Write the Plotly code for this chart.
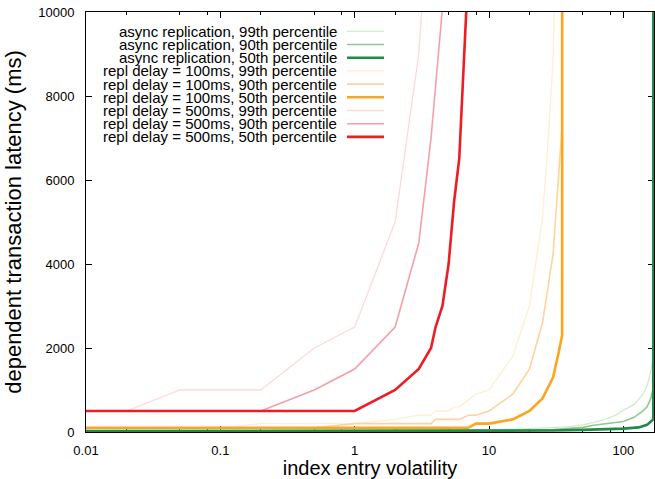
import math
import plotly.graph_objects as go

# ---------------- data ----------------
names = [
    "async replication, 99th percentile",
    "async replication, 90th percentile",
    "async replication, 50th percentile",
    "repl delay = 100ms, 99th percentile",
    "repl delay = 100ms, 90th percentile",
    "repl delay = 100ms, 50th percentile",
    "repl delay = 500ms, 99th percentile",
    "repl delay = 500ms, 90th percentile",
    "repl delay = 500ms, 50th percentile",
]

green99_x = [0.01, 0.1, 1, 10, 20, 30, 40, 50, 60, 70, 80, 90, 100, 120, 140, 150, 160, 167]
green99_y = [40, 40, 40, 50, 80, 100, 130, 170, 230, 280, 350, 420, 520, 650, 900, 1100, 1450, 1800]

green90_x = [0.01, 0.1, 1, 10, 20, 30, 40, 50, 60, 80, 100, 120, 140, 150, 160, 167]
green90_y = [30, 30, 30, 35, 45, 60, 80, 110, 160, 210, 250, 350, 500, 600, 800, 1050]

green50_x = [0.01, 0.1, 1, 10, 30, 50, 70, 100, 130, 150, 160, 167, 167]
green50_y = [20, 20, 20, 25, 35, 50, 60, 80, 110, 170, 250, 300, 1000000]

orange99_x = [0.01, 0.02, 0.05, 0.1, 0.2, 0.5, 1, 2, 3, 3.7, 4, 5, 5.5, 6, 8, 10, 15, 20, 25, 28, 30, 33]
orange99_y = [100, 100, 100, 100, 200, 200, 200, 300, 400, 400, 500, 500, 600, 600, 900, 1000, 1800, 3000, 5100, 7300, 8900, 15000]

orange90_x = [0.01, 0.02, 0.05, 0.1, 0.2, 0.5, 1, 2, 3, 3.7, 4, 5, 6, 7, 8, 10, 15, 20, 25, 30, 33, 35, 40]
orange90_y = [100, 100, 100, 100, 100, 100, 200, 200, 200, 200, 300, 300, 300, 400, 400, 500, 900, 1500, 2600, 4250, 6100, 7300, 1000000]

orange50_x = [0.01, 0.02, 0.05, 0.1, 0.2, 0.5, 1, 2, 3, 4, 5, 6, 7, 8, 9, 10, 15, 20, 25, 30, 33, 35, 40]
orange50_y = [100, 100, 100, 100, 100, 100, 100, 100, 100, 100, 100, 100, 100, 200, 200, 200, 300, 500, 800, 1300, 1900, 2300, 1000000]

red99_x = [0.01, 0.02, 0.05, 0.1, 0.2, 0.5, 1, 2, 3, 4]
red99_y = [500, 500, 1000, 1000, 1000, 2000, 2500, 5000, 9000, 15000]

red90_x = [0.01, 0.02, 0.05, 0.1, 0.2, 0.5, 1, 2, 3, 3.7, 4, 4.5, 5]
red90_y = [500, 500, 500, 500, 500, 1000, 1500, 2500, 4500, 7000, 8300, 10100, 14000]

red50_x = [0.01, 0.02, 0.05, 0.1, 0.2, 0.5, 1, 2, 3, 3.7, 4, 4.5, 5, 5.5, 6, 7]
red50_y = [500, 500, 500, 500, 500, 500, 500, 1000, 1500, 2000, 2500, 3000, 4000, 5500, 6500, 11000]

xs = [green99_x, green90_x, green50_x, orange99_x, orange90_x, orange50_x, red99_x, red90_x, red50_x]
ys = [green99_y, green90_y, green50_y, orange99_y, orange90_y, orange50_y, red99_y, red90_y, red50_y]

colors = ["#cfeccb", "#8fc98f", "#1e8b47",
          "#ffeed2", "#fdd49e", "#fca51f",
          "#fddada", "#f4a0a6", "#ee1c25"]
widths = [1.3, 1.6, 2.6, 1.3, 1.6, 2.6, 1.3, 1.6, 2.6]

x_major = [0.01, 0.1, 1, 10, 100]
x_major_text = ["0.01", "0.1", "1", "10", "100"]
x_minor = [0.02, 0.05, 0.08, 0.2, 0.5, 0.8, 2, 5, 8, 20, 50, 80]
y_ticks = [0, 2000, 4000, 6000, 8000, 10000]
y_tick_text = ["0", "2000", "4000", "6000", "8000", "10000"]
x_range = [0.01, 169]
y_range = [0, 10000]

FONT = "Liberation Sans, Arial, Helvetica, sans-serif"

# ---------------- figure ----------------
fig = go.Figure()
for x, y, c, w in zip(xs, ys, colors, widths):
    fig.add_trace(go.Scatter(x=x, y=y, mode="lines", line=dict(color=c, width=w),
                             showlegend=False, hoverinfo="skip"))

W, H = 655, 479
ml, mr, mt, mb = 86, 1, 12, 47
pw, ph = W - ml - mr, H - mt - mb

fig.update_layout(
    width=W, height=H,
    margin=dict(l=ml, r=mr, t=mt, b=mb, pad=0),
    paper_bgcolor="white", plot_bgcolor="white",
    font=dict(family=FONT, size=13, color="black"),
    showlegend=False,
    xaxis=dict(
        type="log", range=[math.log10(x_range[0]), math.log10(x_range[1])],
        tickmode="array", tickvals=x_major, ticktext=x_major_text,
        ticks="inside", ticklen=6, tickwidth=1, tickcolor="black",
        showline=True, linecolor="black", linewidth=1, mirror="ticks",
        showgrid=False, zeroline=False, layer="below traces",
        minor=dict(tickmode="array", tickvals=x_minor, ticks="inside",
                   ticklen=3, tickwidth=1, tickcolor="black", showgrid=False),
        ticklabelstandoff=6,
        title=dict(text="index entry volatility", font=dict(size=20), standoff=6),
    ),
    yaxis=dict(
        range=y_range, tickmode="array", tickvals=y_ticks, ticktext=y_tick_text,
        ticks="inside", ticklen=6, tickwidth=1, tickcolor="black",
        showline=True, linecolor="black", linewidth=1, mirror="ticks",
        showgrid=False, zeroline=False, layer="below traces",
        ticklabelstandoff=8,
        title=dict(text="dependent transaction latency (ms)", font=dict(size=22), standoff=10),
    ),
)

# gnuplot-style key: right-justified text with the line sample on its right
row0, row_step = 31.3, 13.2
text_right = 338
samp_l, samp_r = 347, 384
for i, (nm, c, w) in enumerate(zip(names, colors, widths)):
    ypix = row0 + row_step * i
    yp = (H - mb - ypix) / ph
    fig.add_annotation(x=(text_right - ml) / pw, y=yp, xref="paper", yref="paper",
                       text=nm, showarrow=False, xanchor="right", yanchor="middle",
                       borderpad=0,
                       font=dict(size=15, family=FONT, color="black"))
    fig.add_shape(type="line", xref="paper", yref="paper",
                  x0=(samp_l - ml) / pw, x1=(samp_r - ml) / pw, y0=yp, y1=yp,
                  line=dict(color=c, width=w))

fig.write_html("out.html")
